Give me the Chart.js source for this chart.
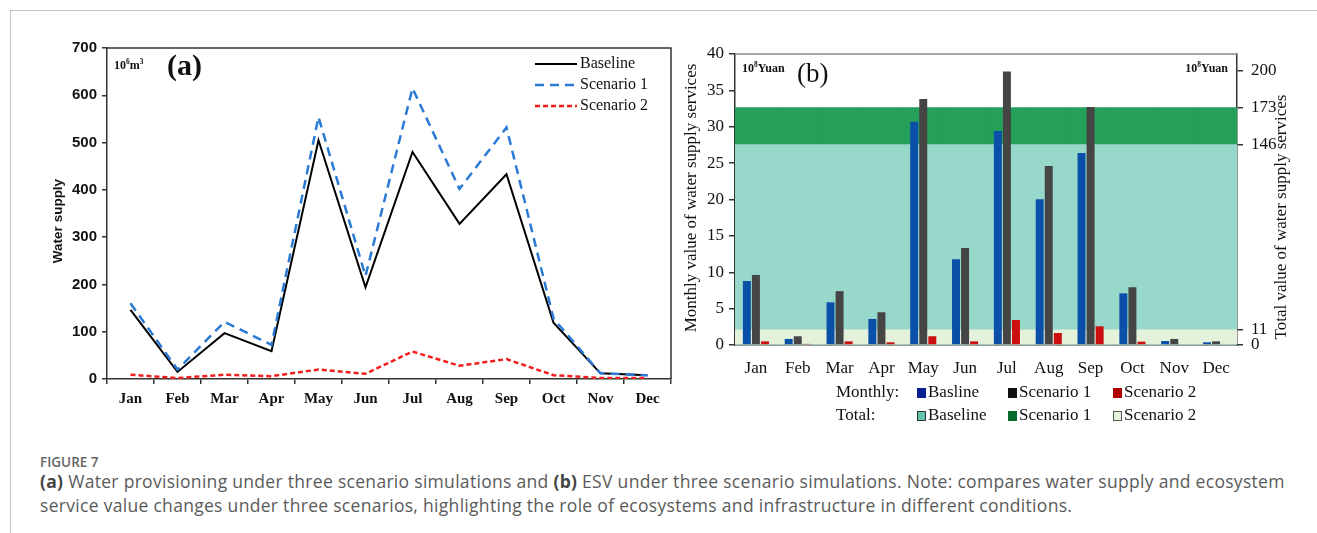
<!DOCTYPE html>
<html>
<head>
<meta charset="utf-8">
<script src="https://cdn.jsdelivr.net/npm/chart.js@4.4.1/dist/chart.umd.min.js"></script>
<style>
  body { margin: 0; background: #fff; width: 1317px; height: 533px; overflow: hidden; position: relative; }
  #frame { position: absolute; left: 10px; top: 10px; right: 0; bottom: 0; border-left: 1px solid #c4c4c4; border-top: 1px solid #c4c4c4; }
  #wrapA { position: absolute; left: 20px; top: 30px; width: 660px; height: 400px; }
  #wrapB { position: absolute; left: 680px; top: 30px; width: 637px; height: 400px; }
  #figLabel { position: absolute; left: 40px; top: 453px; font: 600 13.5px "Open Sans", sans-serif; color: #666; }
  #caption { position: absolute; left: 40px; top: 469px; font: 400 17.5px/24px "Open Sans", sans-serif; letter-spacing: 0.3px; color: #5a5a5a; white-space: nowrap; }
  #caption b { color: #444; }
</style>
</head>
<body>
<div id="frame"></div>
<div id="wrapA"><canvas id="chartA" width="660" height="400"></canvas></div>
<div id="wrapB"><canvas id="chartB" width="637" height="400"></canvas></div>
<div id="figLabel">FIGURE 7</div>
<div id="caption"><b>(a)</b> Water provisioning under three scenario simulations and <b>(b)</b> ESV under three scenario simulations. Note: compares water supply and ecosystem<br>service value changes under three scenarios, highlighting the role of ecosystems and infrastructure in different conditions.</div>

<script>
const months = ["Jan", "Feb", "Mar", "Apr", "May", "Jun", "Jul", "Aug", "Sep", "Oct", "Nov", "Dec"];

// (a) water supply, 10^6 m3
const supplyBaseline = [146, 15, 97, 59, 505, 194, 480, 328, 433, 119, 12, 8];
const supplyScenario1 = [160, 20, 121, 72, 554, 218, 615, 402, 532, 128, 12, 8];
const supplyScenario2 = [9, 2, 9, 6, 20, 11, 58, 28, 42, 8, 2, 2];

// (b) monthly value of water supply services, 10^8 Yuan
const monthlyBaseline = [8.8, 0.83, 5.87, 3.58, 30.7, 11.8, 29.4, 20.05, 26.4, 7.1, 0.55, 0.37];
const monthlyScenario1 = [9.63, 1.2, 7.4, 4.5, 33.8, 13.35, 37.6, 24.6, 32.7, 7.94, 0.83, 0.5];
const monthlyScenario2 = [0.5, 0.15, 0.5, 0.37, 1.2, 0.5, 3.44, 1.65, 2.57, 0.46, 0, 0];

// (b) total value, 10^8 Yuan
const totalBaseline = 146;
const totalScenario1 = 173;
const totalScenario2 = 11;
const totalTicks = [0, 11, 146, 173, 200];

const serif = "'Liberation Serif', 'Times New Roman', serif";
const sans = "'Liberation Sans', Arial, sans-serif";

function drawSup(ctx, parts, x, y, size, weight) {
  // parts: [text, isSuperscript]
  ctx.textBaseline = "alphabetic";
  ctx.textAlign = "left";
  parts.forEach(([txt, sup]) => {
    const s = sup ? size * 0.62 : size;
    ctx.font = `${weight} ${s}px ${serif}`;
    ctx.fillText(txt, x, sup ? y - size * 0.4 : y);
    x += ctx.measureText(txt).width;
  });
}

const panelA = {
  id: "panelA",
  afterDraw(chart) {
    const { ctx, chartArea: a } = chart;
    ctx.save();
    // box top/right
    ctx.strokeStyle = "#333";
    ctx.lineWidth = 1.5;
    ctx.beginPath();
    ctx.moveTo(a.left, a.top);
    ctx.lineTo(a.right, a.top);
    ctx.lineTo(a.right, a.bottom);
    ctx.stroke();

    // legend
    chart.data.datasets.forEach((ds, i) => {
      const y = a.top + 16 + i * 21;
      ctx.strokeStyle = ds.borderColor;
      ctx.lineWidth = ds.borderWidth;
      ctx.setLineDash(ds.borderDash || []);
      ctx.beginPath();
      ctx.moveTo(a.right - 136, y);
      ctx.lineTo(a.right - 94, y);
      ctx.stroke();
      ctx.setLineDash([]);
      ctx.fillStyle = "#111";
      ctx.font = `16px ${serif}`;
      ctx.textAlign = "left";
      ctx.textBaseline = "middle";
      ctx.fillText(ds.label, a.right - 91, y);
    });

    ctx.fillStyle = "#111";
    drawSup(ctx, [["10", 0], ["6", 1], ["m", 0], ["3", 1]], a.left + 7, a.top + 21, 12, "bold");
    ctx.font = `bold 30px ${serif}`;
    ctx.textAlign = "left";
    ctx.textBaseline = "middle";
    ctx.fillText("(a)", a.left + 60, a.top + 19);

    ctx.translate(38, 191);
    ctx.rotate(-Math.PI / 2);
    ctx.textAlign = "center";
    ctx.font = `bold 13.5px ${sans}`;
    ctx.fillText("Water supply", 0, 0);
    ctx.restore();
  },
};

new Chart(document.getElementById("chartA"), {
  type: "line",
  data: {
    labels: months,
    datasets: [
      { label: "Baseline", data: supplyBaseline, borderColor: "#000", borderWidth: 2, pointRadius: 0, tension: 0, order: 3 },
      { label: "Scenario 1", data: supplyScenario1, borderColor: "#2b7bd6", borderWidth: 2.5, borderDash: [9, 6], pointRadius: 0, tension: 0, order: 2 },
      { label: "Scenario 2", data: supplyScenario2, borderColor: "#f21d1d", borderWidth: 2.5, borderDash: [5, 3], pointRadius: 0, tension: 0, order: 1 },
    ],
  },
  options: {
    responsive: false,
    animation: false,
    layout: { padding: { top: 18, right: 9, left: 0, bottom: 0 } },
    plugins: { legend: { display: false }, tooltip: { enabled: false } },
    scales: {
      x: {
        offset: true,
        grid: { offset: true, drawOnChartArea: false, tickLength: 5, color: "#333", lineWidth: 1.5 },
        border: { color: "#333", width: 1.5 },
        ticks: { font: { family: serif, size: 15, weight: "bold" }, color: "#111", padding: 6, maxRotation: 0, autoSkip: false },
        afterFit(scale) { scale.height = 51; },
      },
      y: {
        min: 0,
        max: 700,
        ticks: { stepSize: 100, font: { family: sans, size: 15, weight: "bold" }, color: "#111", padding: 5 },
        grid: { drawOnChartArea: false, tickLength: 5, color: "#333", lineWidth: 1.5 },
        border: { color: "#333", width: 1.5 },
        afterFit(scale) { scale.width = 87; },
      },
    },
  },
  plugins: [panelA],
});

const legendB = [
  { row: "Monthly:", items: [["Basline", "#0a1f8f", null], ["Scenario 1", "#111", null], ["Scenario 2", "#b00000", null]] },
  { row: "Total:", items: [["Baseline", "#5fc6ae", "#333"], ["Scenario 1", "#0b6a2c", null], ["Scenario 2", "#e6f4dc", "#555"]] },
];

const panelB = {
  id: "panelB",
  afterDraw(chart) {
    const { ctx, chartArea: a } = chart;
    ctx.save();
    ctx.strokeStyle = "#888";
    ctx.lineWidth = 1.5;
    ctx.beginPath();
    ctx.moveTo(a.left, a.top);
    ctx.lineTo(a.right, a.top);
    ctx.stroke();

    ctx.fillStyle = "#111";
    drawSup(ctx, [["10", 0], ["8", 1], ["Yuan", 0]], a.left + 7, a.top + 18, 12, "bold");
    const wRight = (() => {
      ctx.font = `bold 12px ${serif}`;
      let w = ctx.measureText("10Yuan").width;
      ctx.font = `bold ${12 * 0.62}px ${serif}`;
      return w + ctx.measureText("8").width;
    })();
    drawSup(ctx, [["10", 0], ["8", 1], ["Yuan", 0]], a.right - 9 - wRight, a.top + 18, 12, "bold");

    ctx.font = `27px ${serif}`;
    ctx.textAlign = "left";
    ctx.textBaseline = "middle";
    ctx.fillText("(b)", a.left + 62, a.top + 21);

    // legend rows
    ctx.font = `17px ${serif}`;
    legendB.forEach((r, ri) => {
      const y = a.bottom + 48 + ri * 23;
      ctx.fillStyle = "#111";
      ctx.textAlign = "left";
      ctx.textBaseline = "middle";
      ctx.fillText(r.row, 156, y);
      const xs = [237, 328, 433];
      r.items.forEach(([label, color, stroke], i) => {
        ctx.fillStyle = color;
        ctx.fillRect(xs[i], y - 5, 9, 10);
        if (stroke) {
          ctx.strokeStyle = stroke;
          ctx.lineWidth = 1;
          ctx.strokeRect(xs[i] + 0.5, y - 4.5, 8, 9);
        }
        ctx.fillStyle = "#111";
        ctx.fillText(label, xs[i] + 11, y);
      });
    });

    // axis titles
    ctx.fillStyle = "#111";
    ctx.font = `17px ${serif}`;
    ctx.textAlign = "center";
    ctx.textBaseline = "middle";
    ctx.save();
    ctx.translate(12, 168);
    ctx.rotate(-Math.PI / 2);
    ctx.fillText("Monthly value of water supply services", 0, 0);
    ctx.restore();
    ctx.save();
    ctx.translate(602, 187);
    ctx.rotate(-Math.PI / 2);
    ctx.fillText("Total value of water supply services", 0, 0);
    ctx.restore();
    ctx.restore();
  },
};

new Chart(document.getElementById("chartB"), {
  type: "bar",
  data: {
    labels: months,
    datasets: [
      { label: "Baseline", data: monthlyBaseline, backgroundColor: "#0a50a8", order: 0 },
      { label: "Scenario 1", data: monthlyScenario1, backgroundColor: "#454545", order: 0 },
      { label: "Scenario 2", data: monthlyScenario2, backgroundColor: "#cc1010", order: 0 },
      { label: "Total Scenario 1", data: months.map(() => totalScenario1), backgroundColor: "#24a05b", yAxisID: "y2", grouped: false, barPercentage: 1, categoryPercentage: 1, order: 30 },
      { label: "Total Baseline", data: months.map(() => totalBaseline), backgroundColor: "#98d8ca", yAxisID: "y2", grouped: false, barPercentage: 1, categoryPercentage: 1, order: 20 },
      { label: "Total Scenario 2", data: months.map(() => totalScenario2), backgroundColor: "#e4f2dc", yAxisID: "y2", grouped: false, barPercentage: 1, categoryPercentage: 1, order: 10 },
    ],
  },
  options: {
    responsive: false,
    animation: false,
    categoryPercentage: 0.65,
    barPercentage: 0.88,
    layout: { padding: { top: 24, right: 0, left: 0, bottom: 0 } },
    plugins: { legend: { display: false }, tooltip: { enabled: false } },
    scales: {
      x: {
        grid: { display: true, drawOnChartArea: false, drawTicks: false },
        border: { color: "#333", width: 1.5 },
        ticks: { font: { family: serif, size: 17 }, color: "#111", padding: 13, maxRotation: 0, autoSkip: false },
        afterFit(scale) { scale.height = 85; },
      },
      y: {
        min: 0,
        max: 40,
        ticks: { stepSize: 5, font: { family: serif, size: 17 }, color: "#111", padding: 5 },
        grid: { drawOnChartArea: false, tickLength: 6, color: "#333", lineWidth: 1.5 },
        border: { color: "#333", width: 1.5 },
        afterFit(scale) { scale.width = 55; },
      },
      y2: {
        position: "right",
        min: 0,
        max: 212,
        afterBuildTicks(scale) { scale.ticks = totalTicks.map((v) => ({ value: v })); },
        ticks: { font: { family: serif, size: 17 }, color: "#111", padding: 8, autoSkip: false },
        grid: { drawOnChartArea: false, tickLength: 6, color: "#333", lineWidth: 1.5 },
        border: { color: "#333", width: 1.5 },
        afterFit(scale) { scale.width = 80; },
      },
    },
  },
  plugins: [panelB],
});
</script>
</body>
</html>
